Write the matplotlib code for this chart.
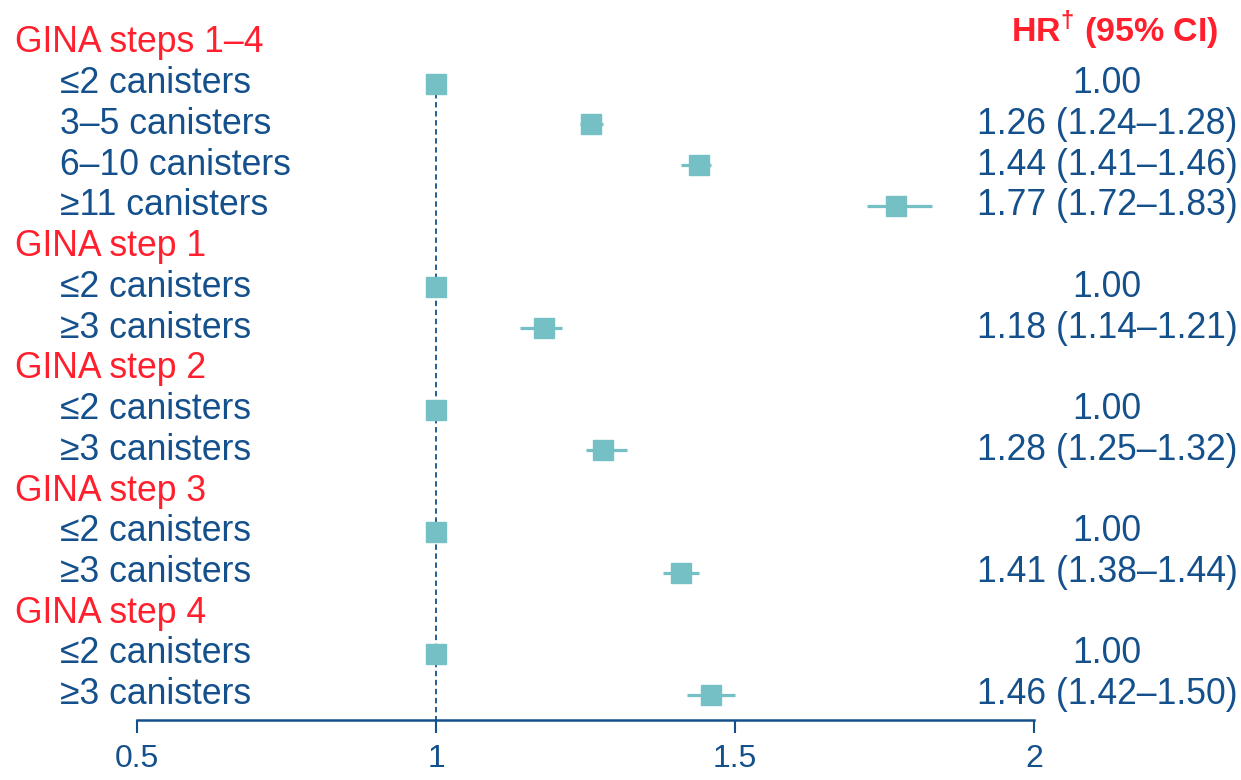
import matplotlib.pyplot as plt
from matplotlib.transforms import blended_transform_factory

plt.rcParams['font.family'] = ['Liberation Sans', 'DejaVu Sans']
plt.rcParams['mathtext.fontset'] = 'custom'
plt.rcParams['mathtext.rm'] = 'Liberation Sans:bold'
plt.rcParams['mathtext.bf'] = 'Liberation Sans:bold'

### Data ###
groups = ["GINA steps 1–4", "GINA step 1", "GINA step 2", "GINA step 3", "GINA step 4"]
items = [["≤2 canisters", "3–5 canisters", "6–10 canisters", "≥11 canisters"],
         ["≤2 canisters", "≥3 canisters"],
         ["≤2 canisters", "≥3 canisters"],
         ["≤2 canisters", "≥3 canisters"],
         ["≤2 canisters", "≥3 canisters"]]
hr = [[1.00, 1.26, 1.44, 1.77], [1.00, 1.18], [1.00, 1.28], [1.00, 1.41], [1.00, 1.46]]
lo = [[1.00, 1.24, 1.41, 1.72], [1.00, 1.14], [1.00, 1.25], [1.00, 1.38], [1.00, 1.42]]
hi = [[1.00, 1.28, 1.46, 1.83], [1.00, 1.21], [1.00, 1.32], [1.00, 1.44], [1.00, 1.50]]
xticks = [0.5, 1, 1.5, 2]
##############

red = '#FF1F2D'
blue = '#14508C'
teal = '#74C0C5'
fs = 25.6

fig = plt.figure(figsize=(12.41, 7.80), dpi=100)
ax = fig.add_axes([137 / 1241, 60 / 780, (1034 - 137) / 1241, 700 / 780])
tr = blended_transform_factory(fig.transFigure, ax.transData)

row = 0
first_item_row = None
for g in range(len(groups)):
    ax.text(15 / 1241, row, groups[g], color=red, fontsize=fs, va='center', ha='left', transform=tr)
    row += 1
    for k in range(len(items[g])):
        if first_item_row is None:
            first_item_row = row
        ax.text(60 / 1241, row, items[g][k], color=blue, fontsize=fs, va='center', ha='left', transform=tr)
        if hr[g][k] == 1.0 and lo[g][k] == hi[g][k]:
            label = "1.00"
        else:
            label = f"{hr[g][k]:.2f} ({lo[g][k]:.2f}–{hi[g][k]:.2f})"
        ax.text(1107 / 1241, row, label, color=blue, fontsize=fs, va='center', ha='center', transform=tr)
        ax.plot([lo[g][k], hi[g][k]], [row, row], color=teal, lw=2.3, solid_capstyle='butt', zorder=3)
        ax.plot(hr[g][k], row, marker='s', ms=14, color=teal, mec=teal, zorder=4)
        row += 1

nrows = row
bottom = nrows - 1 + 0.62
ax.set_ylim(bottom, -0.56)
ax.set_xlim(0.5, 2)
ax.plot([1, 1], [first_item_row, bottom], color=blue, lw=1.3, ls=(0, (3, 2)), zorder=2)

ax.text(1115 / 1241, -0.3, r"HR$^{\dagger}$ (95% CI)", color=red, fontsize=24.5, fontweight='bold',
        va='center', ha='center', transform=tr)

for s in ['top', 'left', 'right']:
    ax.spines[s].set_visible(False)
ax.spines['bottom'].set_color(blue)
ax.spines['bottom'].set_linewidth(1.8)
ax.set_yticks([])
ax.set_xticks(xticks)
ax.set_xticklabels([f"{t:g}" for t in xticks])
ax.tick_params(axis='x', direction='out', length=9, width=1.5, color=blue, labelcolor=blue,
               labelsize=23, pad=8)
ax.patch.set_visible(False)

plt.savefig("out.png", dpi=100)
